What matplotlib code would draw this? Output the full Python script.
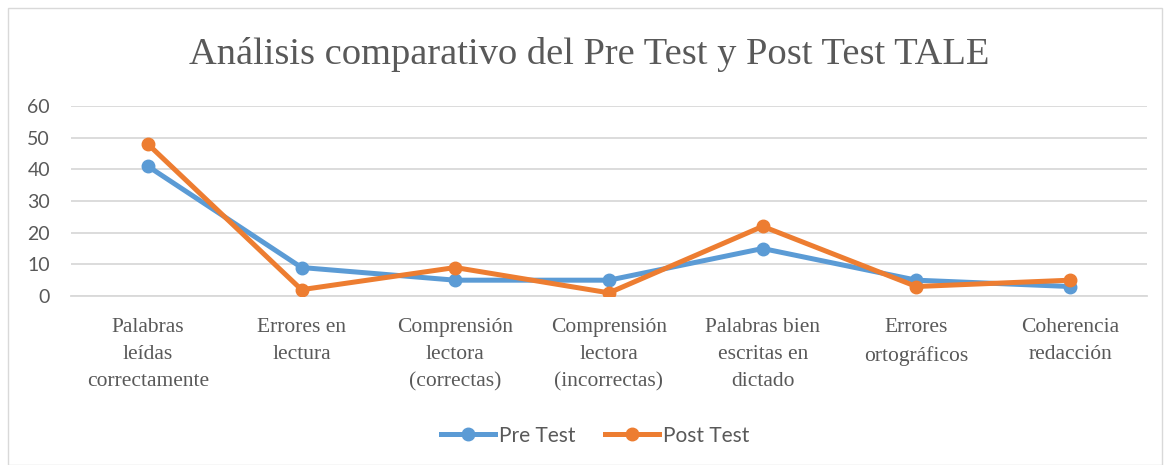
import matplotlib.pyplot as plt
from matplotlib.patches import Rectangle
from matplotlib.lines import Line2D

categories = ["Palabras\nleídas\ncorrectamente", "Errores en\nlectura",
              "Comprensión\nlectora\n(correctas)", "Comprensión\nlectora\n(incorrectas)",
              "Palabras bien\nescritas en\ndictado", "Errores\nortográficos",
              "Coherencia\nredacción"]
pre_test = [41, 9, 5, 5, 15, 5, 3]
post_test = [48, 2, 9, 1, 22, 3, 5]
yticks = [0, 10, 20, 30, 40, 50, 60]

blue = "#5b9bd5"
orange = "#ed7d31"
grey = "#595959"
serif = ["Liberation Serif", "DejaVu Serif"]
sans = ["Lato", "DejaVu Sans"]

fig = plt.figure(figsize=(11.65, 4.65), dpi=100)
fig.patches.append(Rectangle((0.007, 0.0), 0.99, 0.983, transform=fig.transFigure,
                             fill=False, edgecolor="#d9d9d9", linewidth=1))
ax = fig.add_axes([0.0609, 0.3634, 0.9236, 0.4086])

x = range(len(categories))
ax.plot(x, pre_test, color=blue, linewidth=3.6, marker="o", markersize=9,
        solid_capstyle="round", label="Pre Test", zorder=3)
ax.plot(x, post_test, color=orange, linewidth=3.6, marker="o", markersize=9,
        solid_capstyle="round", label="Post Test", zorder=4)

ax.set_xlim(-0.5, len(categories) - 0.5)
ax.set_ylim(0, 60)
ax.set_yticks(yticks)
ax.set_yticklabels([str(v) for v in yticks], fontfamily=sans, fontsize=14, color=grey)
ax.tick_params(axis="y", length=0, pad=15)
ax.set_xticks(list(x))
ax.set_xticklabels(categories, fontfamily=serif, fontsize=15.5, color=grey,
                   linespacing=1.57, va="top")
ax.tick_params(axis="x", length=0, pad=16)
ax.grid(axis="y", color="#d9d9d9", linewidth=1.3)
ax.set_axisbelow(True)
for s in ["top", "right", "left"]:
    ax.spines[s].set_visible(False)
ax.spines["bottom"].set_color("#d9d9d9")
ax.spines["bottom"].set_linewidth(1.3)

fig.text(0.506, 0.882, "Análisis comparativo del Pre Test y Post Test TALE",
         fontfamily=serif, fontsize=27.7, color=grey, ha="center", va="center")

handles = [Line2D([], [], color=blue, linewidth=3.6, marker="o", markersize=9),
           Line2D([], [], color=orange, linewidth=3.6, marker="o", markersize=9)]
fig.legend(handles, ["Pre Test", "Post Test"], loc="center", bbox_to_anchor=(0.511, 0.063),
           ncol=2, frameon=False, prop={"family": sans, "size": 15}, labelcolor=grey,
           handlelength=2.6, handletextpad=0.2, columnspacing=1.4)

fig.savefig("out.png", dpi=100)
